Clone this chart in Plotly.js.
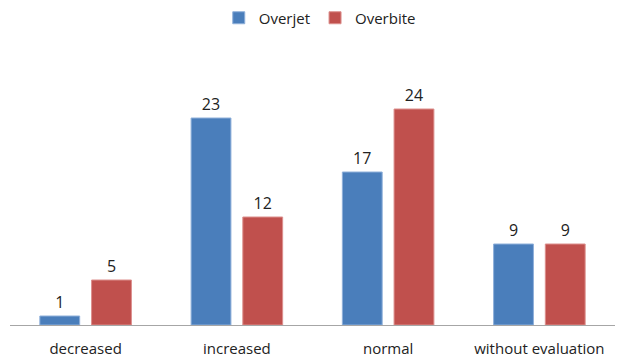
<!DOCTYPE html>
<html>
<head>
<meta charset="utf-8">
<script src="https://cdn.plot.ly/plotly-3.0.1.min.js"></script>
<style>
  html, body { margin: 0; padding: 0; background: #fff; }
  #chart { width: 617px; height: 358px; }
</style>
</head>
<body>
<div id="chart"></div>
<script>
// Bite assessment categories and patient counts per measure
const categories = ["decreased", "increased", "normal", "without evaluation"];
const overjet = [1, 23, 17, 9];
const overbite = [5, 12, 24, 9];

const labelFont = { family: "Open Sans, Noto Sans, sans-serif", size: 16, color: "#222" };

const traces = [
  {
    type: "bar", name: "Overjet", x: categories, y: overjet,
    text: overjet.map(String), textposition: "outside", cliponaxis: false,
    textfont: labelFont,
    marker: { color: "#4a7ebb", line: { color: "#8fb0da", width: 1 } }
  },
  {
    type: "bar", name: "Overbite", x: categories, y: overbite,
    text: overbite.map(String), textposition: "outside", cliponaxis: false,
    textfont: labelFont,
    marker: { color: "#c0504d", line: { color: "#dc8f8d", width: 1 } }
  }
];

const layout = {
  width: 617, height: 358,
  margin: { l: 10, r: 2, t: 55, b: 33, autoexpand: false },
  paper_bgcolor: "#fff", plot_bgcolor: "#fff",
  barmode: "group", bargap: 0.316, bargroupgap: 0.23,
  font: { family: "Open Sans, Noto Sans, sans-serif", size: 15, color: "#222" },
  showlegend: true,
  legend: {
    orientation: "h", x: 0.512, xanchor: "center", y: 1.137, yanchor: "middle",
    font: { size: 15, color: "#222" }, itemwidth: 30, traceorder: "normal"
  },
  xaxis: {
    showline: true, linecolor: "#a6a6a6", linewidth: 1,
    ticks: "outside", ticklen: 10, tickcolor: "rgba(0,0,0,0)",
    showgrid: false, zeroline: false,
    tickfont: { size: 15, color: "#222" }
  },
  yaxis: {
    range: [0, 30], visible: false, showgrid: false, zeroline: false
  }
};

Plotly.newPlot("chart", traces, layout, { displayModeBar: false, staticPlot: true });
</script>
</body>
</html>
